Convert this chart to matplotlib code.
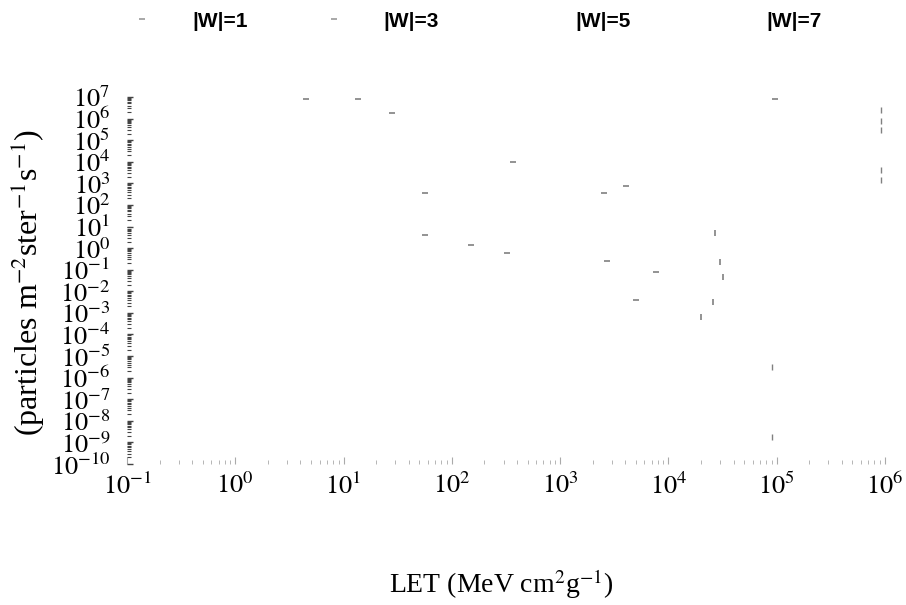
import matplotlib
matplotlib.use('Agg')
import numpy as np
import matplotlib.pyplot as plt
import matplotlib.ticker as ticker
from matplotlib.lines import Line2D
from matplotlib import font_manager

# Faded curve fragments (LET, flux)
series_labels = ['|W|=1', '|W|=3', '|W|=5', '|W|=7']

w1_let = [4.5, 13.7, 28, 56, 56, 149, 320]
w1_flux = [8e6, 8e6, 1.8e6, 360, 4, 1.4, 0.6]

w3_let = [365, 2530, 4050, 2700, 7650, 5000, 9.67e4]
w3_flux = [1e4, 360, 760, 0.26, 0.079, 4e-3, 8e6]

w5_let = [26900, 29900, 31900, 25800, 20000]
w5_flux = [5, 0.23, 0.047, 3.2e-3, 6.5e-4]

w7_let = [9.2e5, 9.2e5, 9.2e5, 9.2e5, 9.2e5, 9.1e4, 9.1e4]
w7_flux = [2.5e6, 7.7e5, 3e5, 4.2e3, 1.4e3, 3e-6, 1.8e-9]

x_exponents = [-1, 0, 1, 2, 3, 4, 5, 6]
y_exponents = list(range(-10, 8))

# Fonts
plt.rcParams['font.family'] = 'Liberation Serif'
plt.rcParams['mathtext.fontset'] = 'stix'
names = set(f.name for f in font_manager.fontManager.ttflist)
legend_font = 'Liberation Sans Narrow' if 'Liberation Sans Narrow' in names else 'Liberation Sans'

fig = plt.figure(figsize=(9.06, 6.05), dpi=100)
ax = fig.add_axes([0.1402, 0.2331, 0.8366, 0.6066])

frag_color = '#808080'
ax.plot(w1_let, w1_flux, linestyle='none', marker='_', ms=4, mew=1.2, color=frag_color)
ax.plot(w3_let, w3_flux, linestyle='none', marker='_', ms=4, mew=1.2, color=frag_color)
ax.plot(w5_let, w5_flux, linestyle='none', marker='|', ms=5, mew=1.2, color=frag_color)
ax.plot(w7_let, w7_flux, linestyle='none', marker='|', ms=5, mew=1.0, color=frag_color)

ax.set_xscale('log')
ax.set_yscale('log')
ax.set_xlim(1e-1, 1e6)
ax.set_ylim(1e-10, 1e7)

ax.xaxis.set_major_locator(ticker.FixedLocator([10.0**e for e in x_exponents]))
ax.xaxis.set_major_formatter(ticker.FixedFormatter(['$10^{%d}$' % e for e in x_exponents]))
ax.yaxis.set_major_locator(ticker.FixedLocator([10.0**e for e in y_exponents]))
ax.yaxis.set_major_formatter(ticker.FixedFormatter(['$10^{%d}$' % e for e in y_exponents]))
ax.xaxis.set_minor_locator(ticker.LogLocator(base=10, subs=np.arange(2, 10), numticks=100))
ax.yaxis.set_minor_locator(ticker.LogLocator(base=10, subs=np.arange(2, 10), numticks=100))
ax.xaxis.set_minor_formatter(ticker.NullFormatter())
ax.yaxis.set_minor_formatter(ticker.NullFormatter())

for s in ax.spines.values():
    s.set_visible(False)

ax.tick_params(axis='x', which='both', direction='in', color='#aaaaaa', pad=6,
               labelsize=19, top=False)
ax.tick_params(axis='x', which='major', length=5, width=0.8)
ax.tick_params(axis='x', which='minor', length=3, width=0.6)
ax.tick_params(axis='y', which='both', direction='in', color='#444444', pad=12,
               labelsize=19, right=False)
ax.tick_params(axis='y', which='major', length=4, width=1.0)
ax.tick_params(axis='y', which='minor', length=3, width=0.8)

fig.text(0.031, 0.534, '(particles m$^{-2}$ster$^{-1}$s$^{-1}$)', rotation=90,
         ha='center', va='center', fontsize=23)
fig.text(0.553, 0.034, 'LET (MeV cm$^{2}$g$^{-1}$)', ha='center', va='center', fontsize=20)

# Legend (only the first two handles survived in the scan)
legend_marks = ['_', '_', '', '']
handles = [Line2D([], [], linestyle='none', marker=m, ms=4, mew=1.2, color='#999999')
           for m in legend_marks]
fig.legend(handles, series_labels, loc='center', bbox_to_anchor=(0.512, 0.965), ncol=4,
           frameon=False, handlelength=3.5, handletextpad=0.65, columnspacing=2.38,
           prop={'family': legend_font, 'weight': 'bold', 'size': 15})

plt.savefig('out.png', dpi=100)
